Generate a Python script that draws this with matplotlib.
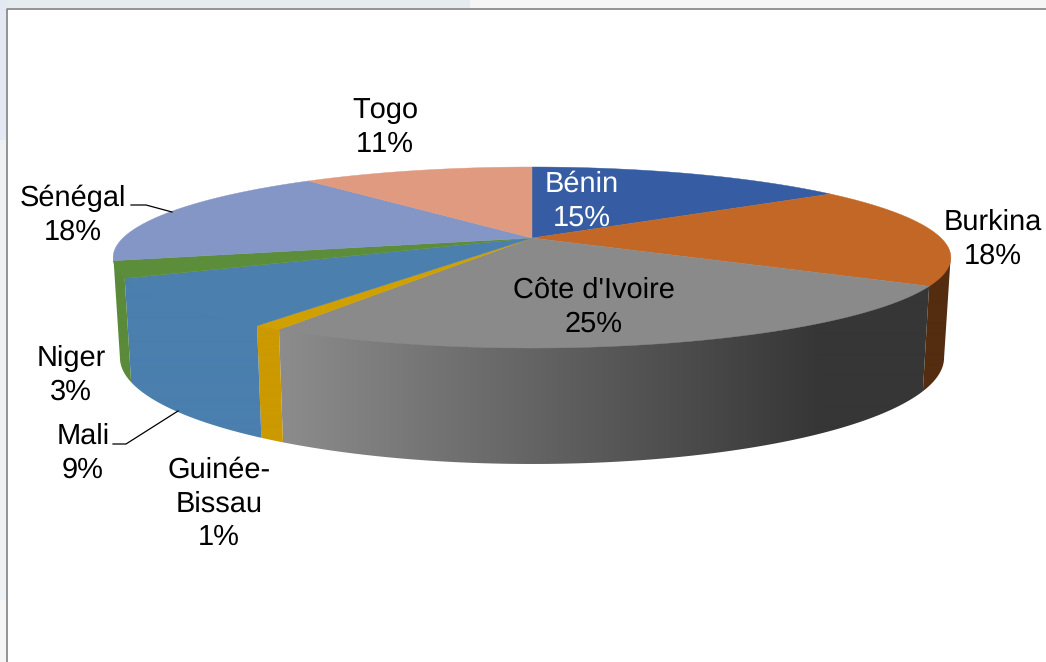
import numpy as np
from matplotlib import pyplot as plt
from matplotlib.colors import to_rgb
from matplotlib.patches import Polygon, Rectangle

plt.rcParams['font.family'] = ['Liberation Sans', 'DejaVu Sans']
plt.rcParams['text.hinting'] = 'no_hinting'
plt.rcParams['text.hinting_factor'] = 1
plt.rcParams['text.kerning_factor'] = 6

names = ['Bénin', 'Burkina', "Côte d'Ivoire", 'Guinée-\nBissau', 'Mali', 'Niger', 'Sénégal', 'Togo']
shares = [15.3, 18.0, 25.1, 0.9, 8.7, 3.0, 18.0, 11.0]
top_colors = ['#365da3', '#c36727', '#8a8a8a', '#d0a000', '#4a7fae', '#5c8d3b', '#8496c6', '#df9a80']
wall_left = ['#365da3', '#542c10', '#8c8c8c', '#cc9900', '#4a7fae', '#5a8a3a', '#8496c6', '#df9a80']
wall_right = ['#365da3', '#542c10', '#363636', '#cc9900', '#4679a8', '#5a8a3a', '#8496c6', '#df9a80']
label_pos = [(582, 184.5), (993, 222.5), (594, 290.5), (219, 470.5), (83, 436.5), (71, 358.5), (73, 198.5), (385, 110.5)]
label_colors = ['white', 'black', 'black', 'black', 'black', 'black', 'black', 'black']

# perspective of the disc, in picture pixels
cx, cy = 532, 238
a, b, k = 409, 86.3, 0.2155
# bottom rim of the wall: a bit narrower, but taller than the top rim
a_low, b_low, cy_low = 402.4, 101.5, 334.6


def project(theta, bottom=False):
    # theta in degrees, clockwise from the top of the disc
    t = np.radians(theta)
    u, v = np.sin(t), -np.cos(t)
    w = 1 - k * v
    if bottom:
        return cx + a_low * u / w, cy_low + b_low * v / w
    return cx + a * u / w, cy + b * v / w


fig = plt.figure(figsize=(10.46, 6.62), dpi=100, facecolor='white')
ax = fig.add_axes([0, 0, 1, 1])

# screenshot surroundings
ax.add_patch(Rectangle((0, 0), 470, 8, color='#e4ecef', lw=0))
ax.add_patch(Rectangle((470, 0), 576, 8, color='#f5f5f5', lw=0))
ax.add_patch(Rectangle((0, 0), 6, 140, color='#e4e8f2', lw=0))
ax.add_patch(Rectangle((0, 140), 6, 460, color='#eef1f3', lw=0))
ax.add_patch(Rectangle((0, 600), 6, 62, color='#f5f5f5', lw=0))
ax.plot([6.5, 6.5, 1046], [662, 8.5, 8.5], color='#808080', lw=1.2)

edges = np.cumsum([0] + shares) * 3.6
vis_start, vis_end = 102.4, 257.6

# side walls first, the tops go over them
for i in range(len(shares)):
    t0, t1 = max(edges[i], vis_start), min(edges[i + 1], vis_end)
    if t1 <= t0:
        continue
    th = np.linspace(t0, t1, 200)
    xt, yt = project(th)
    xb, yb = project(th[::-1], True)
    # top edge lifted a little under the disc so no white seam shows
    pts = list(zip(xt, yt - 3)) + list(zip(xb, yb))
    wall = Polygon(pts, closed=True, facecolor='none', edgecolor='none')
    ax.add_patch(wall)
    # shade along x, the dark side stays flat near the right
    px = np.arange(0, 1046)
    f = np.clip((820 - px) / (820 - 283), 0, 1)[None, :, None]
    c_r, c_l = np.array(to_rgb(wall_right[i])), np.array(to_rgb(wall_left[i]))
    img = ax.imshow(c_r + (c_l - c_r) * f, extent=(0, 1046, 662, 0), aspect='auto', interpolation='bilinear')
    img.set_clip_path(wall)

for i in range(len(shares)):
    th = np.linspace(edges[i], edges[i + 1], 120)
    xs, ys = project(th)
    pts = [(cx, cy)] + list(zip(xs, ys))
    ax.add_patch(Polygon(pts, closed=True, facecolor=top_colors[i], edgecolor=top_colors[i], lw=0.3))

# leader lines
ax.plot([131, 146, 172], [205, 205, 212], color='black', lw=0.9)
ax.plot([113, 126, 178], [444, 444, 411], color='black', lw=0.9)

for name, share, pos, col in zip(names, shares, label_pos, label_colors):
    lines = name.split('\n') + ['%d%%' % round(share)]
    for j, line in enumerate(lines):
        ax.text(pos[0], pos[1] + j * 33.6, line, color=col, fontsize=21, ha='center', va='center')

ax.set_xlim(0, 1046)
ax.set_ylim(662, 0)
ax.axis('off')

fig.savefig('out.png', dpi=100)
